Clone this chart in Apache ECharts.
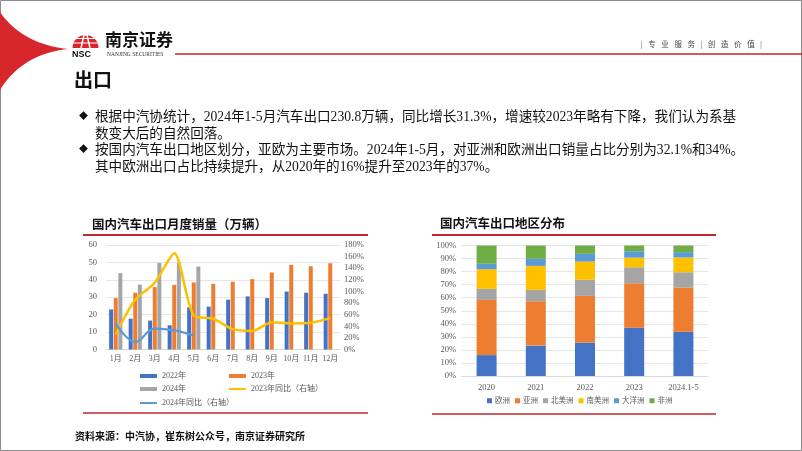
<!DOCTYPE html>
<html><head><meta charset="utf-8">
<script src="https://cdn.jsdelivr.net/npm/echarts@6/dist/echarts.min.js"></script>
<style>html,body{margin:0;padding:0;background:#fff}#c{width:802px;height:451px}</style>
</head><body><div id="c"></div>
<script>
const months = ['1月','2月','3月','4月','5月','6月','7月','8月','9月','10月','11月','12月'];
const sales2022 = [23, 17.7, 16.6, 13.9, 24.2, 24.6, 28.6, 30.5, 29.5, 33.3, 32.6, 32];
const sales2023 = [29.5, 32.6, 35.8, 37.1, 38.5, 37.7, 38.9, 40.4, 44.2, 48.6, 47.8, 49.5];
const sales2024 = [43.8, 37.3, 49.7, 49.7, 47.6];
const yoy2023 = [26, 86, 115, 166, 58, 53, 35, 32, 47, 45, 46, 54];
const yoy2024 = [45, 13, 36, 33, 24];
const regionYears = ['2020','2021','2022','2023','2024.1-5'];
const europe  = [16, 23.3, 25.6, 37, 34];
const asia    = [42.3, 34, 35.8, 34, 33.8];
const northAm = [8.5, 8.7, 12.3, 12.3, 11.7];
const southAm = [15, 18.4, 14, 7.4, 11.3];
const oceania = [4.2, 5.4, 5.9, 4.9, 4.1];
const africa  = [14, 10.2, 6.4, 4.4, 5.1];

const SERIF = "'Liberation Serif', 'Noto Sans CJK SC', serif";
const CJK = "'Liberation Serif', 'Noto Sans CJK SC', sans-serif";
const RED = '#C0282D';
const AX = '#595959';

const chart = echarts.init(document.getElementById('c'), null, {renderer:'canvas'});

function txt(x, y, text, size, opts) {
  opts = opts || {};
  return {type:'text', x:x, y:y, z:10, style:Object.assign({text:text, fontSize:size, fontFamily:CJK,
    fill:'#000', verticalAlign:'middle', textVerticalAlign:'middle'}, opts)};
}
function hline(x1, x2, y, w, color) {
  return {type:'line', z:5, shape:{x1:x1, y1:y, x2:x2, y2:y}, style:{stroke:color || RED, lineWidth:w || 2}};
}
// decorative red crescent (quadratic curves sampled)
function quad(p0, p1, p2, n) {
  const pts = [];
  for (let i = 0; i <= n; i++) {
    const t = i / n, u = 1 - t;
    pts.push([u*u*p0[0] + 2*u*t*p1[0] + t*t*p2[0], u*u*p0[1] + 2*u*t*p1[1] + t*t*p2[1]]);
  }
  return pts;
}
const crescent = quad([0,12],[22,44],[68,49],20).concat(quad([68,49],[22,54],[0,90],20).slice(1));

const graphics = [
  {type:'rect', z:1, shape:{x:0.5, y:0.5, width:801, height:450}, style:{fill:'none', stroke:'#8c8c8c', lineWidth:1}},
  {type:'polygon', z:5, shape:{points:crescent}, style:{fill:'#D7262C'}},
  {type:'sector', z:5, shape:{cx:85.5, cy:48, r:13, r0:0, startAngle:Math.PI, endAngle:2*Math.PI}, style:{fill:'#D7262C'}},
  hline(72, 99, 38.5, 1, '#fff'),
  hline(72, 99, 43, 1, '#fff'),
  {type:'polyline', z:6, shape:{points:[[81,48],[84,35],[87,35],[90,48]]}, style:{fill:'none', stroke:'#fff', lineWidth:1.5}},
  txt(72, 54.5, 'NSC', 9, {fontWeight:'bold', fontFamily:"'Liberation Sans', sans-serif", fill:'#111'}),
  txt(105, 42, '南京证券', 17, {fontWeight:'bold', fill:'#111'}),
  txt(107, 54.5, 'NANJING SECURITIES', 5.5, {fontFamily:"'Liberation Serif', serif", fill:'#333'}),
  hline(175, 802, 54, 1.5),
  txt(641, 45, '|   专   业   服   务   |   创   造   价   值   |', 7.5, {fill:'#444'}),
  txt(74, 82, '出口', 19, {fontWeight:'bold', fill:'#111'}),
  txt(79, 117, '◆', 9, {fill:'#111'}),
  txt(95, 117, '根据中汽协统计，2024年1-5月汽车出口230.8万辆，同比增长31.3%，增速较2023年略有下降，我们认为系基', 13.6, {fill:'#111'}),
  txt(95, 134, '数变大后的自然回落。', 13.6, {fill:'#111'}),
  txt(79, 150, '◆', 9, {fill:'#111'}),
  txt(95, 150, '按国内汽车出口地区划分，亚欧为主要市场。2024年1-5月，对亚洲和欧洲出口销量占比分别为32.1%和34%。', 13.6, {fill:'#111'}),
  txt(95, 167, '其中欧洲出口占比持续提升，从2020年的16%提升至2023年的37%。', 13.6, {fill:'#111'}),
  txt(92, 226, '国内汽车出口月度销量（万辆）', 12.5, {fontWeight:'bold', fill:'#111'}),
  hline(83, 368, 235, 2),
  hline(83, 368, 413, 1.5),
  txt(440, 225, '国内汽车出口地区分布', 12.5, {fontWeight:'bold', fill:'#111'}),
  hline(432, 716, 235, 2),
  hline(432, 716, 414, 1.5),
  txt(75, 437, '资料来源：中汽协，崔东树公众号，南京证券研究所', 10, {fontWeight:'bold', fill:'#111'})
];

function lg(name, left, top, h) {
  return {data:[name], left:left, top:top, itemWidth:17, itemHeight:h, icon:'rect',
    textStyle:{fontSize:8, color:AX, fontFamily:CJK}, itemGap:4, padding:0, selectedMode:false};
}

const option = {
  animation:false,
  backgroundColor:'#fff',
  graphic: graphics,
  legend: [
    lg('2022年', 140, 372, 4),
    lg('2023年', 229, 372, 4),
    lg('2024年', 140, 385, 4),
    lg('2023年同比（右轴）', 229, 385, 2),
    lg('2024年同比（右轴）', 140, 399, 2),
    {data:['欧洲','亚洲','北美洲','南美洲','大洋洲','非洲'], left:487, top:397, itemWidth:5, itemHeight:5,
     icon:'rect', itemGap:5, padding:0, selectedMode:false,
     textStyle:{fontSize:7.5, color:AX, fontFamily:CJK, padding:[0,0,0,-2]}}
  ],
  grid: [
    {left:106, width:234, top:245, height:104.5},
    {left:462, width:246, top:245.5, height:130.5}
  ],
  xAxis: [
    {type:'category', gridIndex:0, data:months, axisTick:{show:false},
     axisLine:{lineStyle:{color:'#D9D9D9'}},
     axisLabel:{interval:0, fontSize:8, color:AX, fontFamily:SERIF, margin:5}},
    {type:'category', gridIndex:1, data:regionYears, axisTick:{show:false},
     axisLine:{lineStyle:{color:'#D9D9D9'}},
     axisLabel:{interval:0, fontSize:8.5, color:AX, fontFamily:SERIF, margin:8}}
  ],
  yAxis: [
    {type:'value', gridIndex:0, min:0, max:60, interval:10, axisLine:{show:false}, axisTick:{show:false},
     splitLine:{lineStyle:{color:'#E6E6E6'}},
     axisLabel:{fontSize:8.5, color:AX, fontFamily:SERIF, margin:9}},
    {type:'value', gridIndex:0, min:0, max:180, interval:20, position:'right', axisLine:{show:false}, axisTick:{show:false},
     splitLine:{show:false},
     axisLabel:{fontSize:8.5, color:AX, fontFamily:SERIF, margin:4, formatter:'{value}%'}},
    {type:'value', gridIndex:1, min:0, max:100, interval:10, axisLine:{show:false}, axisTick:{show:false},
     splitLine:{lineStyle:{color:'#E6E6E6'}},
     axisLabel:{fontSize:8.5, color:AX, fontFamily:SERIF, margin:6, formatter:'{value}%'}}
  ],
  series: [
    {name:'2022年', type:'bar', xAxisIndex:0, yAxisIndex:0, data:sales2022, barWidth:4, barGap:'15%', itemStyle:{color:'#4472C4'}},
    {name:'2023年', type:'bar', xAxisIndex:0, yAxisIndex:0, data:sales2023, barWidth:4, barGap:'15%', itemStyle:{color:'#ED7D31'}},
    {name:'2024年', type:'bar', xAxisIndex:0, yAxisIndex:0, data:sales2024, barWidth:4, barGap:'15%', itemStyle:{color:'#A5A5A5'}},
    {name:'2023年同比（右轴）', type:'line', xAxisIndex:0, yAxisIndex:1, data:yoy2023, smooth:0.25, showSymbol:false,
     lineStyle:{color:'#FFC000', width:2.5}, itemStyle:{color:'#FFC000'}, z:5},
    {name:'2024年同比（右轴）', type:'line', xAxisIndex:0, yAxisIndex:1, data:yoy2024, smooth:0.4, showSymbol:false,
     lineStyle:{color:'#5B9BD5', width:2.2}, itemStyle:{color:'#5B9BD5'}, z:5},
    {name:'欧洲', type:'bar', stack:'r', xAxisIndex:1, yAxisIndex:2, data:europe, barWidth:20, itemStyle:{color:'#4472C4'}},
    {name:'亚洲', type:'bar', stack:'r', xAxisIndex:1, yAxisIndex:2, data:asia, barWidth:20, itemStyle:{color:'#ED7D31'}},
    {name:'北美洲', type:'bar', stack:'r', xAxisIndex:1, yAxisIndex:2, data:northAm, barWidth:20, itemStyle:{color:'#A5A5A5'}},
    {name:'南美洲', type:'bar', stack:'r', xAxisIndex:1, yAxisIndex:2, data:southAm, barWidth:20, itemStyle:{color:'#FFC000'}},
    {name:'大洋洲', type:'bar', stack:'r', xAxisIndex:1, yAxisIndex:2, data:oceania, barWidth:20, itemStyle:{color:'#5B9BD5'}},
    {name:'非洲', type:'bar', stack:'r', xAxisIndex:1, yAxisIndex:2, data:africa, barWidth:20, itemStyle:{color:'#70AD47'}}
  ]
};
chart.setOption(option);
</script>
</body></html>
